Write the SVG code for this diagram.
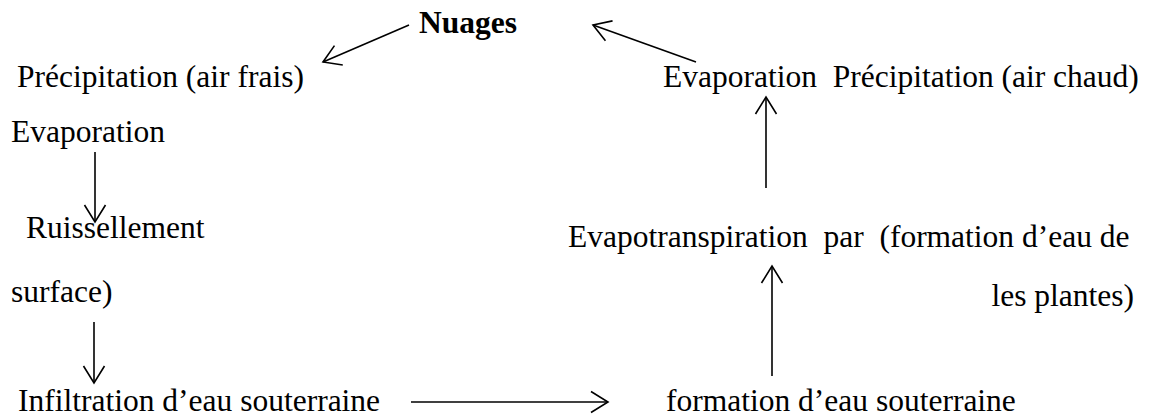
<svg xmlns="http://www.w3.org/2000/svg" width="1155" height="416" viewBox="0 0 1155 416">
<style>
text{font-family:"Liberation Serif","Times New Roman",serif;font-size:31.5px;fill:#000}
.b{font-weight:bold}
.c{stroke:#000;stroke-width:1.6;fill:none}
</style>
<defs>
<marker id="ah" markerUnits="userSpaceOnUse" viewBox="-20 -13 22 26" refX="0" refY="0" markerWidth="22" markerHeight="26" orient="auto" overflow="visible">
<path d="M-17,-10.5 L0,0 L-17,10.5" fill="none" stroke="#000" stroke-width="1.6"/>
</marker>
</defs>
<rect width="1155" height="416" fill="#fff"/>
<g id="nuages"><text class="b" x="419" y="33">Nuages</text></g>
<g id="precip-frais"><text x="17" y="87">Précipitation (air frais)</text></g>
<g id="evap-right"><text x="663" y="87" xml:space="preserve">Evaporation  Précipitation (air chaud)</text></g>
<g id="evap-left"><text x="11" y="142">Evaporation</text></g>
<g id="ruissellement"><text x="26" y="238">Ruissellement</text></g>
<g id="surface"><text x="11" y="302">surface)</text></g>
<g id="evapotranspiration"><text x="568" y="247" xml:space="preserve">Evapotranspiration  par  (formation d’eau de</text></g>
<g id="plantes"><text x="1134" y="306" text-anchor="end">les plantes)</text></g>
<g id="infiltration"><text x="18" y="411">Infiltration d’eau souterraine</text></g>
<g id="formation"><text x="666" y="411">formation d’eau souterraine</text></g>
<g id="connectors">
<line class="c" x1="409" y1="25" x2="323" y2="62" marker-end="url(#ah)"/>
<line class="c" x1="696" y1="62" x2="593" y2="25" marker-end="url(#ah)"/>
<line class="c" x1="95" y1="152" x2="95" y2="222" marker-end="url(#ah)"/>
<line class="c" x1="94" y1="322" x2="94" y2="383" marker-end="url(#ah)"/>
<line class="c" x1="411" y1="402" x2="608" y2="402" marker-end="url(#ah)"/>
<line class="c" x1="766" y1="188" x2="766" y2="97" marker-end="url(#ah)"/>
<line class="c" x1="772" y1="376" x2="772" y2="266" marker-end="url(#ah)"/>
</g>
</svg>
